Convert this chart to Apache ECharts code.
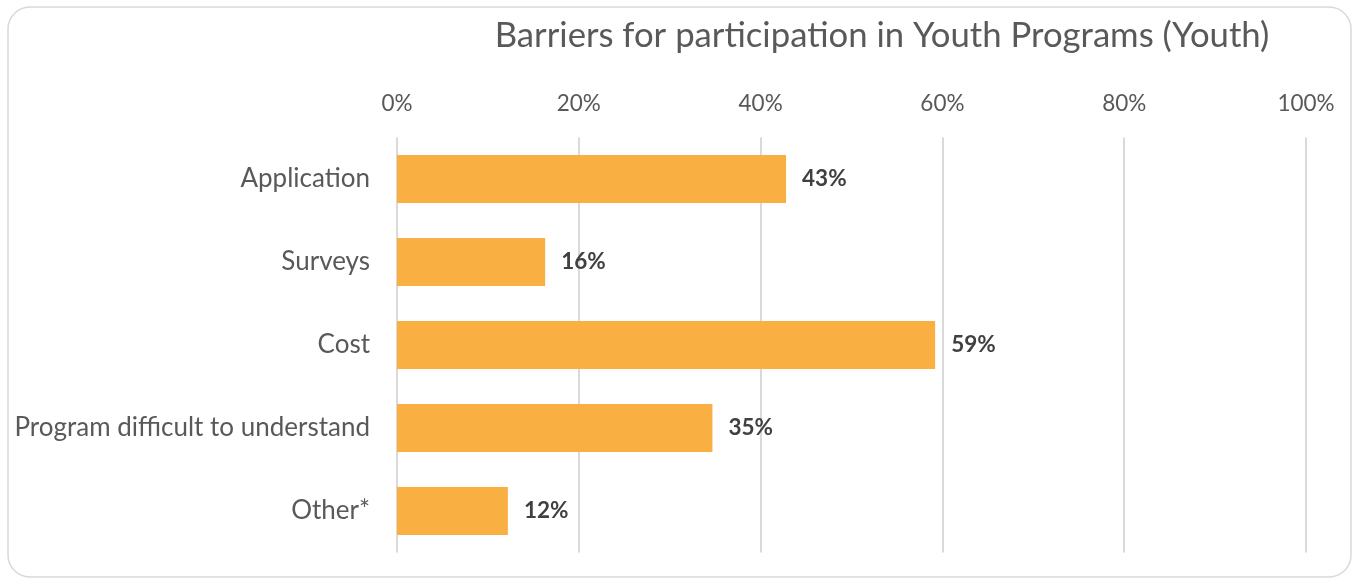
<!DOCTYPE html>
<html><head><meta charset="utf-8">
<script src="https://cdn.jsdelivr.net/npm/echarts@6/dist/echarts.min.js"></script>
<style>html,body{margin:0;padding:0;background:#fff;}#c{width:1354px;height:579px;}</style>
</head><body><div id="c"></div>
<script>
const title = 'Barriers for participation in Youth Programs (Youth)';
const categories = ['Application','Surveys','Cost','Program difficult to understand','Other*'];
const values = [42.8,16.3,59.2,34.7,12.2];
const FONT = 'Lato, "Open Sans", sans-serif';
const chart = echarts.init(document.getElementById('c'));
chart.setOption({
  animation:false,
  graphic:[{type:'rect',shape:{x:8,y:7,width:1343,height:570,r:22},style:{fill:'none',stroke:'#d9d9d9',lineWidth:1.5},silent:true}],
  title:{text:title,left:877,textAlign:'center',top:13,textStyle:{fontFamily:FONT,fontSize:34.7,fontWeight:'normal',color:'#595959'}},
  grid:{left:397,right:48,top:137.5,bottom:26.5,containLabel:false},
  xAxis:{type:'value',position:'top',min:0,max:100,interval:20,
    axisLabel:{formatter:'{value}%',fontFamily:FONT,fontSize:22.5,color:'#595959',margin:22},
    axisLine:{show:false},axisTick:{show:false},
    splitLine:{lineStyle:{color:'#d9d9d9',width:2}}},
  yAxis:{type:'category',inverse:true,data:categories,
    axisLabel:{fontFamily:FONT,fontSize:26,color:'#595959',margin:27},
    axisLine:{show:false},axisTick:{show:false}},
  series:[{type:'bar',data:values,barWidth:48,itemStyle:{color:'#F9AF42'},
    label:{show:true,position:'right',distance:16,formatter:p=>Math.round(p.value)+'%',fontFamily:FONT,fontSize:22.5,fontWeight:'bold',color:'#404040'}}]
});
</script></body></html>
